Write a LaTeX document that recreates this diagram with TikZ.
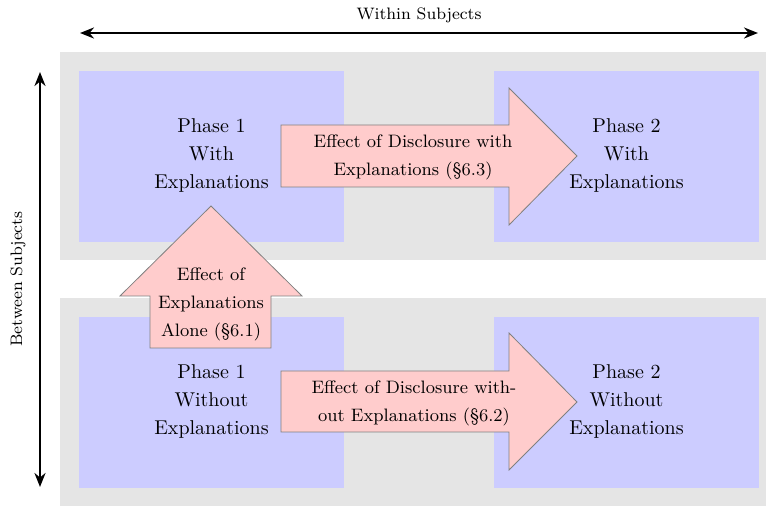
\documentclass[tikz,border=0pt]{standalone}
\usepackage{amsmath,amssymb}
\usepackage{tikz}
\usetikzlibrary{arrows.meta}

\tikzset{
  phasetext/.style={align=center, font=\fontsize{10}{14}\selectfont},
  effecttext/.style={align=center, font=\fontsize{9}{14}\selectfont},
  effectarrow/.style={fill=red!20, draw=gray, line width=0.4pt},
  axisarrow/.style={{Stealth[length=7pt,width=5.5pt]}-{Stealth[length=7pt,width=5.5pt]}, line width=1.2pt},
  axislabel/.style={font=\fontsize{8.3}{10}\selectfont}
}

\begin{document}
\begin{tikzpicture}[x=0.5pt, y=-0.5pt]
          \useasboundingbox (0, 0) rectangle (766, 506);

          % Bands
          \fill [black!10] (60, 52) rectangle (766, 260);
          \fill [black!10] (60, 298) rectangle (766, 506);

          % Phases
          \fill [blue!20] (79, 71) rectangle (344, 242);
          \fill [blue!20] (494, 71) rectangle (759, 242);
          \fill [blue!20] (79, 317) rectangle (344, 488);
          \fill [blue!20] (494, 317) rectangle (759, 488);
          \node [phasetext] (p1with) at (211.5, 156) {Phase 1\\With\\Explanations};
          \node [phasetext] (p2with) at (626.5, 156) {Phase 2\\With\\Explanations};
          \node [phasetext] (p1without) at (211.5, 402) {Phase 1\\Without\\Explanations};
          \node [phasetext] (p2without) at (626.5, 402) {Phase 2\\Without\\Explanations};

          % Effects
          \draw [effectarrow] (281, 125) -- (509, 125) -- (509, 88) -- (577, 156) --
            (509, 225) -- (509, 187) -- (281, 187) -- cycle;
          \draw [effectarrow] (281, 371) -- (509, 371) -- (509, 333) -- (577, 402) --
            (509, 470) -- (509, 432) -- (281, 432) -- cycle;
          \draw [effectarrow] (150, 348) -- (150, 296) -- (120, 296) -- (211, 206) --
            (302, 296) -- (271, 296) -- (271, 348) -- cycle;
          \node [effecttext] (withexp) at (413, 157) {Effect of Disclosure with\\Explanations (\S6.3)};
          \node [effecttext] (withoutexp) at (414, 403) {Effect of Disclosure with-\\out Explanations (\S6.2)};
          \node [effecttext] (alone) at (211, 304) {Effect of\\Explanations\\Alone (\S6.1)};

          % Axes
          \coordinate (wleft) at (80, 33);
          \coordinate (wright) at (758, 33);
          \coordinate (btop) at (40, 72);
          \coordinate (bbottom) at (40, 487);
          \draw [axisarrow] (wleft) -- (wright);
          \draw [axisarrow] (btop) -- (bbottom);
          \node [axislabel] (within) at (419, 15) {Within Subjects};
          \node [axislabel, rotate=90] (between) at (18, 279) {Between Subjects};
        \end{tikzpicture}
\end{document}
